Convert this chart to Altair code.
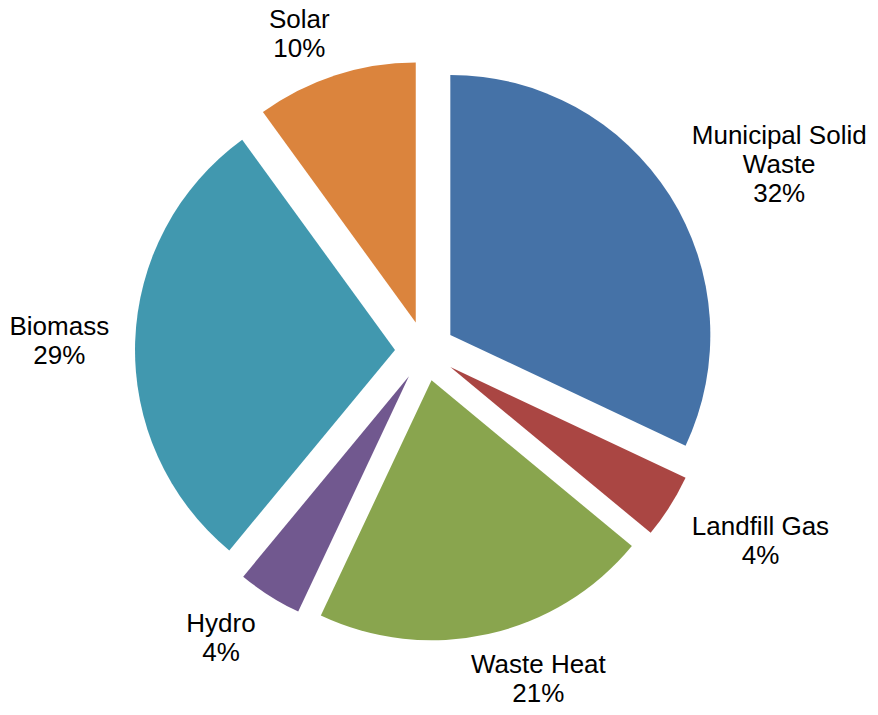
import math
import altair as alt
import pandas as pd
import numpy as np

# ---- data ----
categories = ["Municipal Solid Waste", "Landfill Gas", "Waste Heat", "Hydro", "Biomass", "Solar"]
label_names = ["Municipal Solid\nWaste", "Landfill Gas", "Waste Heat", "Hydro", "Biomass", "Solar"]
shares = [32, 4, 21, 4, 29, 10]
colors = ["#4572A7", "#AA4643", "#89A54E", "#71588F", "#4198AF", "#DB843D"]

# ---- layout / style ----
W, H = 862, 699          # plot area (page has 8px margin)
CX, CY = 417, 343        # pie centre inside plot area (px)
RADIUS = 260
EXPLODE = 30
LABEL_RX, LABEL_RY = 316, 314
LABEL_DY = 20
LABEL_SHIFT = 2          # labels sit a little below the pie centre line
FONT_SIZE = 26
LINE_H = 29

# Arial / Liberation Sans advance widths (1/1000 em) for estimating label widths
ADV = {" ": 278, "%": 889, "M": 833, "W": 944, "L": 556, "G": 778, "H": 722, "B": 667,
       "S": 667, "a": 556, "b": 556, "c": 500, "d": 556, "e": 556, "f": 278, "i": 222,
       "l": 222, "m": 833, "n": 556, "o": 556, "p": 556, "r": 333, "s": 500, "t": 278,
       "u": 556, "y": 500}


def text_w(t):
    return sum(ADV.get(ch, 556) for ch in t) / 1000.0 * FONT_SIZE


vals = np.array(shares, dtype=float)
end = np.cumsum(vals)
start = end - vals
mid = (start + end) / 2
ang = mid / 100.0 * 2 * math.pi
s, c = np.sin(ang), np.cos(ang)

labels = [f"{n}\n{v}%" for n, v in zip(label_names, shares)]
nlines = np.array([len(l.split("\n")) for l in labels])
widths = np.array([max(text_w(t) for t in l.split("\n")) for l in labels])

lx = LABEL_RX * s + widths / 2 * np.clip(3 * s, -1, 1)
ly = LABEL_RY * c + LABEL_DY * np.clip(3 * c, -1, 1) - LABEL_SHIFT
# Vega anchors the first line; shift so the whole block is centred
ly = ly + (nlines - 1) / 2 * LINE_H

df = pd.DataFrame({
    "category": categories,
    "share": vals,
    "start": start,
    "end": end,
    "ox": EXPLODE * s,
    "oy": EXPLODE * c,
    "lx": lx,
    "ly": ly,
    "label": labels,
})

xs = alt.Scale(domain=[-CX, W - CX], range=[0, W], nice=False, zero=False)
ys = alt.Scale(domain=[-(H - CY), CY], range=[H, 0], nice=False, zero=False)

base = alt.Chart(df)

arcs = base.mark_arc(radius=RADIUS, strokeWidth=0).encode(
    theta=alt.Theta("start:Q", scale=alt.Scale(domain=[0, 100], range=[0, 2 * math.pi])),
    theta2="end:Q",
    x=alt.X("ox:Q", scale=xs, axis=None),
    y=alt.Y("oy:Q", scale=ys, axis=None),
    color=alt.Color("category:N", scale=alt.Scale(domain=categories, range=colors), legend=None),
)

texts = base.mark_text(
    font="Liberation Sans", fontSize=FONT_SIZE, lineHeight=LINE_H, lineBreak="\n",
    align="center", baseline="middle", color="#000000",
).encode(
    x=alt.X("lx:Q", scale=xs, axis=None),
    y=alt.Y("ly:Q", scale=ys, axis=None),
    text="label:N",
)

chart = alt.layer(arcs, texts).properties(
    width=W, height=H, autosize=alt.AutoSizeParams(type="none"), padding=0,
    background="white",
).configure_view(strokeWidth=0, stroke="transparent")

chart.save("out.html", embed_options={"renderer": "svg", "actions": False})
